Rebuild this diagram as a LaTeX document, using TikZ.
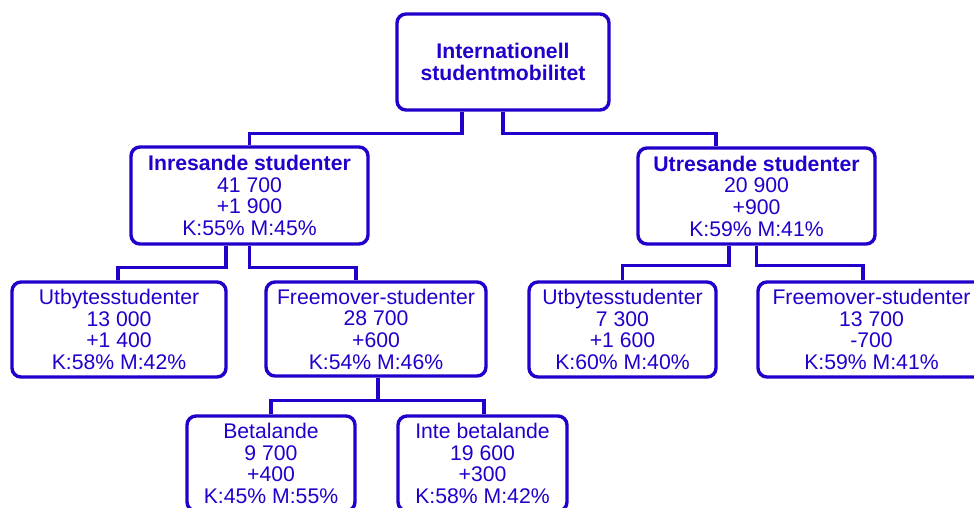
\documentclass[tikz,border=0pt]{standalone}
\usepackage{fontspec}
\setmainfont{Liberation Sans}
\definecolor{org}{RGB}{34,0,204}
\begin{document}
\begin{tikzpicture}[x=1pt,y=-1pt,
  orgbox/.style={draw=org, line width=3.4pt, rounded corners=9pt, fill=white,
    text=org, align=center, inner sep=0pt,
    font=\fontsize{21.2}{21.7}\selectfont},
  link/.style={draw=org, line width=3.4pt, line join=miter}]
\useasboundingbox (0,0) rectangle (974,507);
\clip (0,0) rectangle (974,507);
\fill[white] (0,0) rectangle (974,507);

\node[orgbox, minimum width=212pt, minimum height=96pt] (top) at (503,62)
  {\textbf{Internationell}\\\textbf{studentmobilitet}};
\node[orgbox, minimum width=237pt, minimum height=97pt] (inres) at (249.5,195.5)
  {\textbf{Inresande studenter}\\41 700\\+1 900\\K:55\% M:45\%};
\node[orgbox, minimum width=237pt, minimum height=96pt] (utres) at (756.5,196)
  {\textbf{Utresande studenter}\\20 900\\+900\\K:59\% M:41\%};
\node[orgbox, minimum width=214pt, minimum height=95pt] (utbA) at (119,329.5)
  {Utbytesstudenter\\13 000\\+1 400\\K:58\% M:42\%};
\node[orgbox, minimum width=220pt, minimum height=94pt] (freeA) at (376,329)
  {Freemover-studenter\\28 700\\+600\\K:54\% M:46\%};
\node[orgbox, minimum width=187pt, minimum height=95pt] (utbB) at (622.5,329.5)
  {Utbytesstudenter\\7 300\\+1 600\\K:60\% M:40\%};
\node[orgbox, minimum width=227pt, minimum height=95pt] (freeB) at (871.5,329.5)
  {Freemover-studenter\\13 700\\-700\\K:59\% M:41\%};
\node[orgbox, minimum width=168pt, minimum height=95pt] (bet) at (271,463.5)
  {Betalande\\9 700\\+400\\K:45\% M:55\%};
\node[orgbox, minimum width=169pt, minimum height=95pt] (inte) at (482.5,463.5)
  {Inte betalande\\19 600\\+300\\K:58\% M:42\%};

\draw[link] ([xshift=-41pt]top.south) -- ++(0,22) -| (inres.north);
\draw[link] (top.south) -- ++(0,22) -| ([xshift=-40.5pt]utres.north);
\draw[link] ([xshift=-23.5pt]inres.south) -- ++(0,22) -| ([xshift=-1pt]utbA.north);
\draw[link] (inres.south) -- ++(0,22) -| ([xshift=-20pt]freeA.north);
\draw[link] ([xshift=-27.5pt]utres.south) -- ++(0,20) -| (utbB.north);
\draw[link] (utres.south) -- ++(0,20) -| ([xshift=-8.5pt]freeB.north);
\draw[link] ([xshift=2pt]freeA.south) -- ++(0,23) -| (bet.north);
\draw[link] ([xshift=2pt]freeA.south) -- ++(0,23) -| ([xshift=1.5pt]inte.north);
\end{tikzpicture}
\end{document}
